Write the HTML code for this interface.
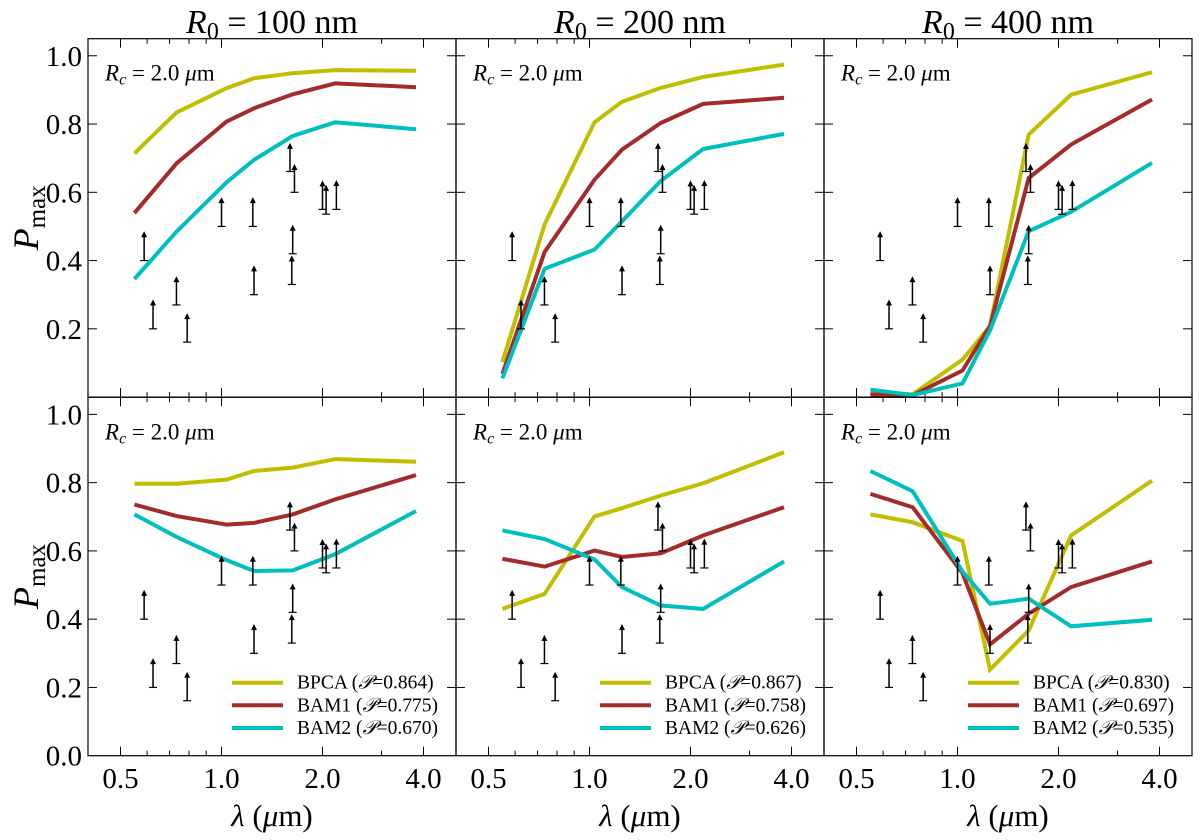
<!DOCTYPE html>
<html><head><meta charset="utf-8"><style>
body{margin:0;background:#fff;}
svg, svg text, svg tspan{font-family:"Liberation Serif","DejaVu Serif",serif !important;}
</style></head><body>
<svg id="chart" width="1200" height="835" viewBox="0 0 1200 835" xmlns="http://www.w3.org/2000/svg" font-family="Liberation Serif, serif"></svg>
<script>
const lambdas = [0.55, 0.735, 1.035, 1.25, 1.63, 2.18, 3.8];
const obsLambda = [0.588, 0.625, 0.734, 0.79, 1.0, 1.24, 1.25, 1.6, 1.65, 1.63, 1.62, 2.0, 2.05, 2.2];
const obsLow = [0.40, 0.20, 0.27, 0.161, 0.50, 0.50, 0.30, 0.661, 0.60, 0.42, 0.33, 0.55, 0.536, 0.55];
const obsHigh = [0.483, 0.283, 0.351, 0.243, 0.583, 0.583, 0.383, 0.742, 0.68, 0.502, 0.412, 0.632, 0.619, 0.633];
const xTicks = [0.5, 1.0, 2.0, 4.0];
const xTickLabels = ["0.5", "1.0", "2.0", "4.0"];
const xMinor = [0.6, 0.7, 0.8, 0.9, 3.0];
const yTicks = [0.2, 0.4, 0.6, 0.8, 1.0];
const yTickLabelsTop = ["0.2", "0.4", "0.6", "0.8", "1.0"];
const yTickLabelsBottom = ["0.0", "0.2", "0.4", "0.6", "0.8", "1.0"];
const titles = ["100", "200", "400"];
const seriesNames = ["BPCA", "BAM1", "BAM2"];
const p00_bpca = [0.714, 0.834, 0.905, 0.934, 0.949, 0.958, 0.956];
const p00_bam1 = [0.539, 0.685, 0.807, 0.846, 0.887, 0.919, 0.908];
const p00_bam2 = [0.346, 0.485, 0.629, 0.695, 0.765, 0.805, 0.785];
const p01_bpca = [0.103, 0.506, 0.805, 0.865, 0.906, 0.938, 0.974];
const p01_bam1 = [0.068, 0.425, 0.637, 0.725, 0.803, 0.859, 0.877];
const p01_bam2 = [0.055, 0.376, 0.432, 0.515, 0.633, 0.727, 0.771];
const p02_bpca = [0.015, 0.008, 0.110, 0.208, 0.769, 0.886, 0.952];
const p02_bam1 = [0.008, 0.005, 0.078, 0.208, 0.642, 0.740, 0.872];
const p02_bam2 = [0.022, 0.006, 0.040, 0.195, 0.486, 0.543, 0.686];
const p10_bpca = [0.797, 0.797, 0.809, 0.834, 0.844, 0.869, 0.861];
const p10_bam1 = [0.736, 0.702, 0.677, 0.682, 0.707, 0.751, 0.822];
const p10_bam2 = [0.707, 0.641, 0.573, 0.541, 0.543, 0.590, 0.717];
const p11_bpca = [0.430, 0.474, 0.701, 0.725, 0.762, 0.798, 0.889];
const p11_bam1 = [0.577, 0.554, 0.601, 0.582, 0.593, 0.645, 0.728];
const p11_bam2 = [0.660, 0.635, 0.575, 0.494, 0.440, 0.430, 0.569];
const p12_bpca = [0.707, 0.684, 0.629, 0.252, 0.367, 0.645, 0.806];
const p12_bam1 = [0.767, 0.728, 0.535, 0.326, 0.416, 0.494, 0.569];
const p12_bam2 = [0.834, 0.775, 0.540, 0.445, 0.460, 0.379, 0.398];
const legendP0 = ["0.864", "0.775", "0.670"];
const legendP1 = ["0.867", "0.758", "0.626"];
const legendP2 = ["0.830", "0.697", "0.535"];

const panelData = [[[p00_bpca,p00_bam1,p00_bam2],[p01_bpca,p01_bam1,p01_bam2],[p02_bpca,p02_bam1,p02_bam2]],
                   [[p10_bpca,p10_bam1,p10_bam2],[p11_bpca,p11_bam1,p11_bam2],[p12_bpca,p12_bam1,p12_bam2]]];
const legendVals = [legendP0, legendP1, legendP2];
const colors = ["#bfbf00", "#a52a2a", "#00bfbf"];

const NS = "http://www.w3.org/2000/svg";
const svg = document.getElementById("chart");
function mk(tag, attrs, parent) {
  const e = document.createElementNS(NS, tag);
  for (const k in attrs) e.setAttribute(k, attrs[k]);
  if (tag === "text") { e.setAttribute("font-family", "Liberation Serif, serif"); e.style.fontFamily = '"Liberation Serif", serif'; }
  (parent || svg).appendChild(e);
  return e;
}
const colX = [88, 456, 824], PW = 368;
const rowY = [38.7, 397.3], PH = 358.4;
const XMIN = 0.4, XMAX = 5.0, YMIN = 0, YMAX = 1.05;
function xs(c, v) { return colX[c] + (Math.log(v) - Math.log(XMIN)) / (Math.log(XMAX) - Math.log(XMIN)) * PW; }
function ys(r, v) { return rowY[r] + PH - (v - YMIN) / (YMAX - YMIN) * PH; }

for (let r = 0; r < 2; r++) for (let c = 0; c < 3; c++) {
  const g = mk("g", {});
  
  
  const x0 = colX[c], y0 = rowY[r];
  xTicks.forEach(t => {
    const x = xs(c, t);
    mk("line", {x1:x, x2:x, y1:y0+PH, y2:y0+PH-9, stroke:"#000", "stroke-width":1}, g);
    mk("line", {x1:x, x2:x, y1:y0, y2:y0+9, stroke:"#000", "stroke-width":1}, g);
  });
  xMinor.forEach(t => {
    const x = xs(c, t);
    mk("line", {x1:x, x2:x, y1:y0+PH, y2:y0+PH-5, stroke:"#000", "stroke-width":1}, g);
    mk("line", {x1:x, x2:x, y1:y0, y2:y0+5, stroke:"#000", "stroke-width":1}, g);
  });
  yTicks.forEach(t => {
    const y = ys(r, t);
    mk("line", {x1:x0, x2:x0+9, y1:y, y2:y, stroke:"#000", "stroke-width":1}, g);
    mk("line", {x1:x0+PW, x2:x0+PW-9, y1:y, y2:y, stroke:"#000", "stroke-width":1}, g);
  });
  const rc = mk("text", {x:x0+17, y:y0+42, "font-size":23}, g);
  
  
  rc.innerHTML = '<tspan font-style="italic">R</tspan><tspan font-style="italic" font-size="16" dy="4">c</tspan><tspan dy="-4"> = 2.0 </tspan><tspan font-style="italic">μ</tspan><tspan>m</tspan>';
  panelData[r][c].forEach((vals, si) => {
    const pts = vals.map((v, i) => xs(c, lambdas[i]).toFixed(1) + "," + ys(r, v).toFixed(1)).join(" ");
    const pl = mk("polyline", {points:pts, fill:"none", stroke:colors[si], "stroke-width":4, "stroke-linejoin":"miter"}, g);
    
    
  });
  obsLambda.forEach((l, i) => {
    const x = xs(c, l), yl = ys(r, obsLow[i]), yh = ys(r, obsHigh[i]);
    const ag = mk("g", {}, g);
    
    
    mk("line", {x1:x-4, x2:x+4, y1:yl, y2:yl, stroke:"#000", "stroke-width":1.2}, ag);
    mk("line", {x1:x, x2:x, y1:yl, y2:yh+3, stroke:"#000", "stroke-width":1.5}, ag);
    mk("polygon", {points:`${x-3},${yh+5} ${x+3},${yh+5} ${x},${yh-1}`, fill:"#000"}, ag);
  });
  mk("rect", {x:x0, y:y0, width:PW, height:PH, fill:"none", stroke:"#000", "stroke-width":1.2}, g);
  if (r === 1) {
    const lx = x0 + 144, ly = [682.7, 705.3, 728];
    seriesNames.forEach((n, si) => {
      const lg = mk("g", {}, g);
      
      
      mk("line", {x1:lx, x2:lx+51, y1:ly[si], y2:ly[si], stroke:colors[si], "stroke-width":4}, lg);
      const t = mk("text", {x:lx+65, y:ly[si]+6, "font-size":19.5}, lg);
      t.innerHTML = n + ' (<tspan font-style="italic">𝒫</tspan>=' + legendVals[c][si] + ')';
    });
  }
}
for (let r = 0; r < 2; r++) {
  const labs = r === 0 ? yTickLabelsTop : yTickLabelsBottom;
  const vals = r === 0 ? yTicks : [0].concat(yTicks);
  vals.forEach((v, i) => {
    const t = mk("text", {x:82, y:ys(r, v)+10, "font-size":29, "text-anchor":"end"});
    
    
    t.textContent = labs[i];
  });
  const yl = mk("text", {x:0, y:0, "font-size":36, "text-anchor":"middle", transform:`translate(38,${rowY[r]+PH/2}) rotate(-90)`});
  
  
  yl.innerHTML = '<tspan font-style="italic">P</tspan><tspan font-size="25" dy="7">max</tspan>';
}
for (let c = 0; c < 3; c++) {
  xTicks.forEach((t, i) => {
    const tx = mk("text", {x:xs(c, t), y:788, "font-size":29, "text-anchor":"middle"});
    
    
    tx.textContent = xTickLabels[i];
  });
  const xl = mk("text", {x:colX[c]+PW/2, y:826, "font-size":31, "text-anchor":"middle"});
  
  
  xl.innerHTML = '<tspan font-style="italic">λ</tspan> (<tspan font-style="italic">μ</tspan>m)';
  const tt = mk("text", {x:colX[c]+PW/2, y:33, "font-size":34, "text-anchor":"middle"});
  
  
  tt.innerHTML = '<tspan font-style="italic">R</tspan><tspan font-size="24" dy="6">0</tspan><tspan dy="-6"> = ' + titles[c] + ' nm</tspan>';
}
</script>
</body></html>
